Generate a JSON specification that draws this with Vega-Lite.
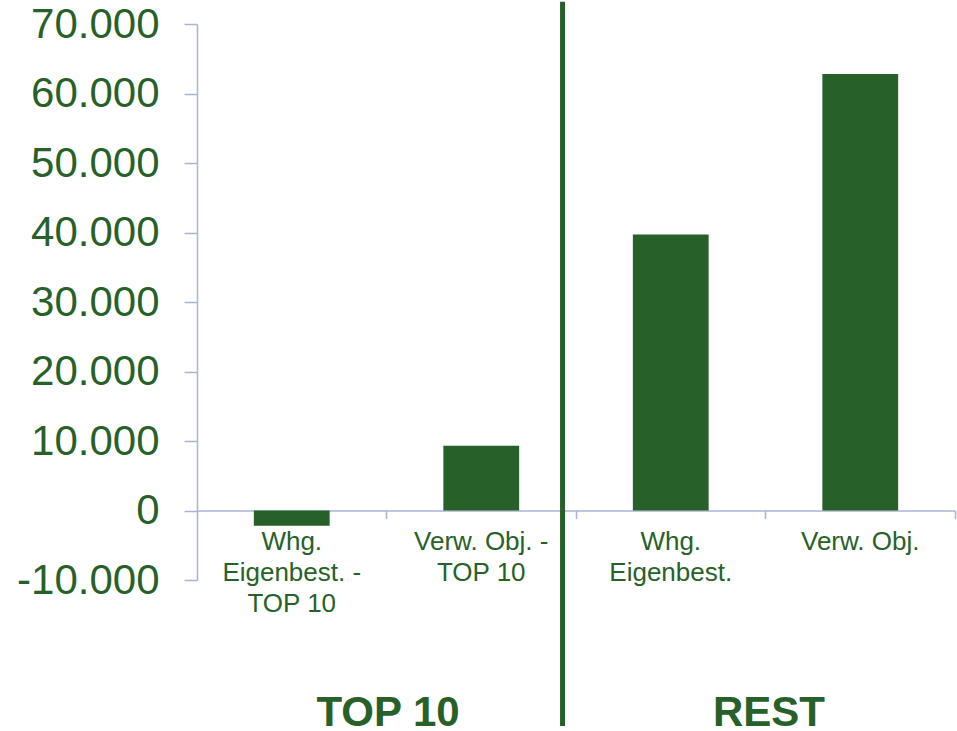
{
  "$schema": "https://vega.github.io/schema/vega-lite/v6.json",
  "width": 758,
  "height": 556,
  "autosize": {"type": "none"},
  "padding": {"left": 197, "top": 24, "right": 2, "bottom": 151},
  "background": "white",
  "config": {
    "view": {"stroke": null},
    "font": "Liberation Sans",
    "locale": {"number": {"decimal": ",", "thousands": ".", "grouping": [3], "currency": ["", " €"], "minus": "-"}}
  },
  "datasets": {
    "bars": [
      {"category": "Whg. Eigenbest. - TOP 10", "value": -2200},
      {"category": "Verw. Obj. - TOP 10", "value": 9300},
      {"category": "Whg. Eigenbest.", "value": 39700},
      {"category": "Verw. Obj.", "value": 62800}
    ],
    "separator": [{"pos": 1.929, "top": 73200, "bottom": -31000}],
    "groups": [
      {"group": "TOP 10", "pos": 1.008, "level": -29100},
      {"group": "REST", "pos": 3.018, "level": -29100}
    ]
  },
  "layer": [
    {
      "data": {"name": "bars"},
      "mark": {"type": "bar", "color": "#276129"},
      "encoding": {
        "x": {
          "field": "category", "type": "nominal", "sort": null,
          "scale": {"paddingInner": 0.6, "paddingOuter": 0.3},
          "axis": {
            "title": null, "labelAngle": 0, "offset": -69.5,
            "domainColor": "#aab3d5", "domainWidth": 1.5,
            "tickColor": "#aab3d5", "tickWidth": 1.5, "tickSize": 8,
            "bandPosition": 1.75,
            "labelFontSize": 26, "labelColor": "#276129", "labelLineHeight": 31,
            "labelPadding": 10, "labelLimit": 0,
            "labelExpr": "datum.value == 'Whg. Eigenbest. - TOP 10' ? ['Whg.', 'Eigenbest. -', 'TOP 10'] : datum.value == 'Verw. Obj. - TOP 10' ? ['Verw. Obj. -', 'TOP 10'] : datum.value == 'Whg. Eigenbest.' ? ['Whg.', 'Eigenbest.'] : datum.value"
          }
        },
        "y": {
          "field": "value", "type": "quantitative",
          "scale": {"domain": [-10000, 70000], "nice": false, "zero": false},
          "axis": {
            "title": null, "grid": false,
            "values": [-10000, 0, 10000, 20000, 30000, 40000, 50000, 60000, 70000],
            "format": ",d",
            "domainColor": "#aab3d5", "domainWidth": 1.5,
            "tickColor": "#aab3d5", "tickWidth": 1.5, "tickSize": 13,
            "labelPadding": 25, "labelFontSize": 42, "labelColor": "#276129"
          }
        }
      }
    },
    {
      "data": {"name": "separator"},
      "mark": {"type": "rule", "color": "#276129", "strokeWidth": 5, "clip": false},
      "encoding": {
        "x": {"field": "pos", "type": "quantitative", "scale": {"domain": [0, 4]}, "axis": null},
        "y": {
          "field": "top", "type": "quantitative",
          "scale": {"domain": [-10000, 70000], "nice": false, "zero": false},
          "axis": {
            "title": null, "grid": false,
            "values": [-10000, 0, 10000, 20000, 30000, 40000, 50000, 60000, 70000],
            "format": ",d",
            "domainColor": "#aab3d5", "domainWidth": 1.5,
            "tickColor": "#aab3d5", "tickWidth": 1.5, "tickSize": 13,
            "labelPadding": 25, "labelFontSize": 42, "labelColor": "#276129"
          }
        },
        "y2": {"field": "bottom"}
      }
    },
    {
      "data": {"name": "groups"},
      "mark": {"type": "text", "fontSize": 42, "fontWeight": "bold", "color": "#276129", "baseline": "middle", "align": "center"},
      "encoding": {
        "x": {"field": "pos", "type": "quantitative", "scale": {"domain": [0, 4]}, "axis": null},
        "y": {
          "field": "level", "type": "quantitative",
          "scale": {"domain": [-10000, 70000], "nice": false, "zero": false},
          "axis": {
            "title": null, "grid": false,
            "values": [-10000, 0, 10000, 20000, 30000, 40000, 50000, 60000, 70000],
            "format": ",d",
            "domainColor": "#aab3d5", "domainWidth": 1.5,
            "tickColor": "#aab3d5", "tickWidth": 1.5, "tickSize": 13,
            "labelPadding": 25, "labelFontSize": 42, "labelColor": "#276129"
          }
        },
        "text": {"field": "group"}
      }
    }
  ],
  "resolve": {"scale": {"x": "independent"}}
}
